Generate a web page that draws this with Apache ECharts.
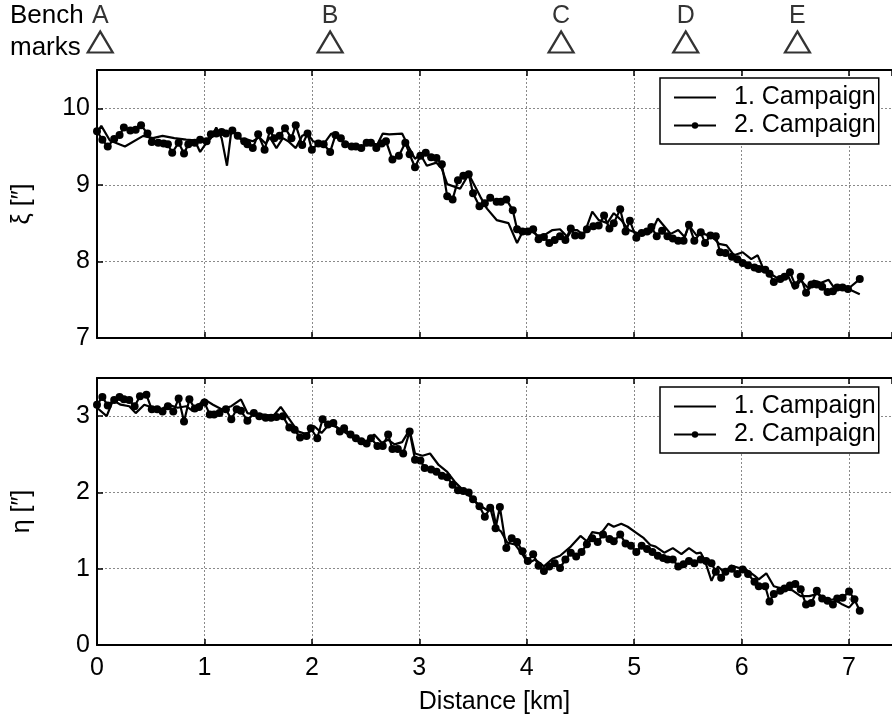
<!DOCTYPE html>
<html>
<head>
<meta charset="utf-8">
<script src="https://cdn.jsdelivr.net/npm/echarts@6/dist/echarts.min.js"></script>
<style>html,body{margin:0;padding:0;background:#fff;}#c{width:892px;height:717px;}</style>
</head>
<body>
<div id="c"></div>
<script>
// ---- data ----
var benchNames = ['A','B','C','D','E'];
var benchKm = [0.03, 2.17, 4.32, 5.48, 6.52];

var xiKm1 = [0.00,0.04,0.12,0.26,0.43,0.52,0.61,0.72,0.83,0.91,0.96,1.02,1.06,1.11,1.16,1.21,1.25,1.30,1.34,1.40,1.45,1.51,1.57,1.61,1.67,1.73,1.78,1.85,1.91,1.96,2.01,2.06,2.12,2.18,2.24,2.30,2.38,2.46,2.55,2.61,2.66,2.72,2.84,2.91,2.96,3.01,3.07,3.16,3.21,3.26,3.38,3.46,3.50,3.57,3.63,3.72,3.83,3.91,3.97,4.03,4.10,4.16,4.24,4.31,4.38,4.42,4.47,4.53,4.61,4.67,4.75,4.81,4.88,4.95,5.03,5.11,5.16,5.22,5.28,5.34,5.41,5.47,5.51,5.58,5.65,5.73,5.79,5.86,5.93,6.01,6.09,6.15,6.21,6.29,6.37,6.43,6.49,6.55,6.63,6.67,6.74,6.81,6.88,6.95,7.01,7.10];
var xiVal1 = [9.68,9.77,9.58,9.50,9.64,9.61,9.64,9.61,9.59,9.58,9.43,9.55,9.61,9.75,9.61,9.25,9.70,9.66,9.59,9.59,9.57,9.62,9.54,9.62,9.48,9.61,9.57,9.48,9.64,9.67,9.57,9.55,9.55,9.67,9.62,9.55,9.50,9.50,9.54,9.53,9.67,9.66,9.67,9.47,9.34,9.40,9.25,9.29,9.21,9.01,8.95,9.14,9.03,8.84,8.69,8.54,8.50,8.24,8.41,8.41,8.34,8.34,8.41,8.42,8.32,8.41,8.41,8.34,8.65,8.54,8.50,8.63,8.54,8.41,8.37,8.39,8.38,8.56,8.46,8.36,8.41,8.32,8.47,8.34,8.36,8.32,8.23,8.21,8.08,8.12,8.03,8.08,7.88,7.82,7.75,7.82,7.64,7.75,7.64,7.75,7.72,7.76,7.62,7.67,7.63,7.57];

var xiKm2 = [0.00,0.05,0.10,0.16,0.21,0.25,0.31,0.36,0.41,0.47,0.51,0.57,0.62,0.66,0.70,0.76,0.81,0.85,0.91,0.96,1.02,1.06,1.11,1.16,1.20,1.26,1.31,1.37,1.40,1.45,1.50,1.56,1.61,1.65,1.70,1.75,1.81,1.85,1.91,1.96,2.00,2.06,2.11,2.17,2.22,2.27,2.31,2.37,2.41,2.46,2.51,2.55,2.60,2.65,2.69,2.75,2.81,2.87,2.91,2.96,3.01,3.06,3.11,3.16,3.21,3.26,3.31,3.36,3.41,3.46,3.50,3.56,3.61,3.66,3.72,3.76,3.81,3.87,3.91,3.96,4.01,4.06,4.11,4.16,4.21,4.26,4.31,4.36,4.41,4.45,4.51,4.56,4.62,4.67,4.72,4.77,4.81,4.87,4.92,4.96,5.02,5.07,5.12,5.16,5.21,5.26,5.31,5.36,5.41,5.46,5.51,5.56,5.62,5.66,5.71,5.76,5.80,5.85,5.91,5.96,6.01,6.06,6.12,6.16,6.22,6.26,6.30,6.36,6.40,6.45,6.50,6.55,6.60,6.65,6.70,6.75,6.80,6.85,6.89,6.94,6.99,7.10];
var xiVal2 = [9.70,9.59,9.50,9.60,9.65,9.75,9.71,9.72,9.78,9.67,9.56,9.55,9.54,9.53,9.42,9.55,9.41,9.53,9.55,9.59,9.57,9.66,9.67,9.69,9.67,9.71,9.64,9.57,9.53,9.48,9.66,9.46,9.71,9.61,9.64,9.74,9.61,9.78,9.52,9.67,9.46,9.54,9.53,9.43,9.65,9.61,9.53,9.50,9.50,9.48,9.55,9.55,9.48,9.54,9.57,9.33,9.38,9.55,9.40,9.23,9.38,9.42,9.36,9.35,9.27,8.85,8.81,9.06,9.12,9.14,8.89,8.72,8.76,8.83,8.78,8.78,8.81,8.67,8.42,8.39,8.39,8.42,8.29,8.32,8.24,8.28,8.33,8.28,8.43,8.34,8.34,8.42,8.46,8.47,8.60,8.43,8.50,8.68,8.39,8.53,8.31,8.37,8.39,8.45,8.33,8.40,8.33,8.30,8.27,8.27,8.48,8.27,8.38,8.24,8.34,8.33,8.12,8.11,8.06,8.03,7.98,7.95,7.92,7.90,7.89,7.84,7.73,7.77,7.80,7.86,7.69,7.80,7.59,7.70,7.70,7.67,7.60,7.61,7.66,7.66,7.64,7.77];

var etaKm1 = [0.00,0.09,0.15,0.22,0.30,0.36,0.44,0.52,0.60,0.67,0.75,0.83,0.89,1.00,1.08,1.16,1.25,1.34,1.40,1.48,1.56,1.64,1.71,1.78,1.87,1.96,2.02,2.09,2.16,2.24,2.34,2.43,2.51,2.58,2.65,2.71,2.77,2.84,2.91,2.96,3.03,3.10,3.18,3.26,3.33,3.40,3.47,3.55,3.63,3.68,3.72,3.76,3.82,3.89,3.96,4.01,4.08,4.16,4.24,4.31,4.41,4.50,4.56,4.61,4.69,4.76,4.81,4.88,4.94,5.02,5.09,5.15,5.20,5.28,5.36,5.44,5.51,5.58,5.62,5.66,5.72,5.78,5.84,5.90,5.98,6.02,6.12,6.16,6.23,6.30,6.40,6.47,6.55,6.63,6.71,6.78,6.86,6.94,7.00,7.08];
var etaVal1 = [3.11,3.00,3.21,3.15,3.13,3.04,3.15,3.11,3.09,3.15,3.11,3.13,3.07,3.22,3.15,3.09,3.13,3.22,3.04,3.02,3.02,3.00,3.12,2.98,2.80,2.76,2.87,2.78,2.89,2.85,2.76,2.69,2.67,2.76,2.65,2.69,2.63,2.66,2.82,2.51,2.48,2.51,2.36,2.27,2.14,2.04,1.95,1.84,1.77,1.81,1.53,1.49,1.34,1.32,1.19,1.07,1.12,1.03,1.13,1.17,1.29,1.43,1.36,1.48,1.46,1.59,1.55,1.59,1.55,1.47,1.40,1.31,1.29,1.21,1.27,1.19,1.27,1.20,1.21,1.10,0.84,1.03,0.95,1.04,1.01,1.01,0.91,0.86,0.94,0.77,0.73,0.72,0.64,0.64,0.67,0.58,0.60,0.53,0.49,0.62];

var etaKm2 = [0.00,0.05,0.10,0.16,0.21,0.25,0.30,0.35,0.40,0.46,0.51,0.56,0.61,0.66,0.71,0.76,0.81,0.86,0.91,0.95,1.00,1.05,1.09,1.14,1.20,1.25,1.30,1.34,1.40,1.46,1.51,1.57,1.62,1.67,1.73,1.79,1.84,1.89,1.95,1.99,2.05,2.10,2.15,2.20,2.26,2.30,2.36,2.41,2.46,2.51,2.55,2.61,2.66,2.71,2.75,2.80,2.85,2.91,2.96,3.01,3.05,3.11,3.16,3.21,3.26,3.31,3.36,3.41,3.46,3.50,3.56,3.61,3.66,3.71,3.75,3.81,3.86,3.91,3.96,4.01,4.06,4.11,4.16,4.21,4.26,4.31,4.36,4.41,4.46,4.51,4.56,4.61,4.66,4.71,4.77,4.81,4.87,4.92,4.97,5.02,5.07,5.12,5.17,5.22,5.27,5.31,5.36,5.41,5.46,5.51,5.56,5.62,5.67,5.72,5.76,5.81,5.85,5.91,5.96,6.01,6.06,6.12,6.16,6.22,6.26,6.30,6.36,6.40,6.45,6.50,6.55,6.60,6.65,6.70,6.75,6.80,6.85,6.89,6.94,7.00,7.05,7.10];
var etaVal2 = [3.15,3.25,3.14,3.21,3.25,3.22,3.21,3.13,3.26,3.28,3.09,3.09,3.06,3.13,3.06,3.23,2.93,3.22,3.10,3.12,3.18,3.02,3.02,3.04,3.09,2.96,3.09,3.07,2.94,3.04,3.00,2.98,2.98,2.99,3.00,2.85,2.82,2.72,2.74,2.84,2.71,2.96,2.89,2.91,2.80,2.84,2.76,2.71,2.67,2.64,2.71,2.61,2.61,2.76,2.57,2.57,2.51,2.80,2.43,2.42,2.32,2.30,2.27,2.22,2.20,2.10,2.03,2.02,2.00,1.91,1.82,1.68,1.80,1.53,1.81,1.27,1.40,1.35,1.23,1.10,1.19,1.04,0.97,1.03,1.07,1.01,1.12,1.21,1.16,1.22,1.32,1.40,1.35,1.45,1.39,1.36,1.45,1.33,1.30,1.22,1.30,1.26,1.22,1.17,1.14,1.12,1.12,1.03,1.06,1.10,1.07,1.12,1.10,1.07,0.96,0.88,0.96,1.00,0.93,0.99,0.93,0.83,0.77,0.77,0.57,0.67,0.71,0.74,0.78,0.80,0.73,0.53,0.55,0.71,0.61,0.58,0.53,0.61,0.62,0.70,0.60,0.45];

var xTicks = ['0','1','2','3','4','5','6','7'];

function pairs(xs, ys){ return xs.map(function(x,i){ return [x, ys[i]]; }); }

var FONT = '"Liberation Sans", Arial, Helvetica, sans-serif';
var FS = 25;
var chart = echarts.init(document.getElementById('c'), null, {renderer:'canvas'});

var axisLineS = {show:true, lineStyle:{color:'#000', width:2}};
var tickS = {show:true, inside:true, length:6, lineStyle:{color:'#000', width:1.5}};
var splitS = {show:true, lineStyle:{color:'#8a8a8a', width:1, type:[2,2]}};
function intLabel(v){ return Math.abs(v - Math.round(v)) < 1e-6 ? String(Math.round(v)) : ''; }

function xAx(grid, pos, labels, extra){
  var o = {type:'value', gridIndex:grid, position:pos, min:0, max:7.4, interval:1,
    axisLine:axisLineS, axisTick:tickS,
    splitLine: pos==='bottom' ? splitS : {show:false},
    axisLabel: labels ? {show:true, color:'#000', fontSize:FS, fontFamily:FONT, margin:11, showMaxLabel:false,
      formatter:function(v){ var s=intLabel(v); return s===''?'':xTicks[Math.round(v)]; }} : {show:false}};
  for (var k in extra) o[k]=extra[k];
  return o;
}
function yAx(grid, mn, mx, name){
  return {type:'value', gridIndex:grid, min:mn, max:mx, interval:1,
    axisLine:axisLineS, axisTick:tickS, splitLine:splitS,
    axisLabel:{show:true, color:'#000', fontSize:FS, fontFamily:FONT, margin:7, showMaxLabel:false, formatter:intLabel},
    name:name, nameLocation:'middle', nameRotate:90, nameGap:62,
    nameTextStyle:{color:'#000', fontSize:FS, fontFamily:FONT}};
}

var lineS1 = {type:'line', symbol:'none', showSymbol:false, lineStyle:{color:'#000', width:2.2}, itemStyle:{color:'#000'}, animation:false, z:3};
var lineS2 = {type:'line', symbol:'circle', symbolSize:8, showSymbol:true, lineStyle:{color:'#000', width:2.2}, itemStyle:{color:'#000'}, animation:false, z:4};
function ser(base, name, xi, yi, data){ var o={}; for (var k in base) o[k]=base[k]; o.name=name; o.xAxisIndex=xi; o.yAxisIndex=yi; o.data=data; return o; }

function legendAt(top){
  return {show:true, left:660, top:top, orient:'vertical',
    backgroundColor:'#fff', borderColor:'#000', borderWidth:1.5, borderRadius:0,
    padding:[7,3,6,13], itemWidth:42, itemHeight:8, itemGap:3,
    textStyle:{color:'#000', fontSize:FS, fontFamily:FONT, padding:[0,0,0,13]},
    data:[{name:'1. Campaign', itemStyle:{color:'rgba(0,0,0,0)', borderWidth:0}},
          {name:'2. Campaign'}],
    selectedMode:false};
}

chart.setOption({
  backgroundColor:'#fff',
  animation:false,
  textStyle:{fontFamily:FONT},
  grid:[
    {left:97, top:70, width:797, height:268},
    {left:97, top:378, width:797, height:267},
    {left:97, top:0, width:797, height:60}
  ],
  xAxis:[
    xAx(0,'bottom',false,{}),
    xAx(0,'top',false,{}),
    xAx(1,'bottom',true,{name:'Distance [km]', nameLocation:'middle', nameGap:45, nameTextStyle:{color:'#000', fontSize:FS, fontFamily:FONT}}),
    xAx(1,'top',false,{}),
    {type:'value', gridIndex:2, min:0, max:7.4, show:false}
  ],
  yAxis:[
    yAx(0,7,10.5,'\u03be [\u2033]'),
    yAx(1,0,3.5,'\u03b7 [\u2033]'),
    {type:'value', gridIndex:2, min:0, max:60, inverse:true, show:false}
  ],
  legend:[legendAt(78), legendAt(387)],
  graphic:[
    {type:'text', left:10, top:3, style:{text:'Bench', fontSize:26, fontFamily:FONT, fill:'#000'}},
    {type:'text', left:10, top:35, style:{text:'marks', fontSize:26, fontFamily:FONT, fill:'#000'}}
  ],
  series:[
    ser(lineS1,'1. Campaign',0,0,pairs(xiKm1,xiVal1)),
    ser(lineS2,'2. Campaign',0,0,pairs(xiKm2,xiVal2)),
    ser(lineS1,'1. Campaign',2,1,pairs(etaKm1,etaVal1)),
    ser(lineS2,'2. Campaign',2,1,pairs(etaKm2,etaVal2)),
    {type:'scatter', xAxisIndex:4, yAxisIndex:2, symbol:'triangle', symbolSize:[25,21],
     itemStyle:{color:'rgba(255,255,255,0)', borderColor:'#000', borderWidth:2.2},
     label:{show:true, position:'top', distance:2, color:'#000', fontSize:FS, fontFamily:FONT, formatter:function(p){return p.name;}},
     data: benchKm.map(function(k,i){ return {name:benchNames[i], value:[k,42]}; }),
     animation:false, silent:true}
  ]
});
</script>
</body>
</html>
